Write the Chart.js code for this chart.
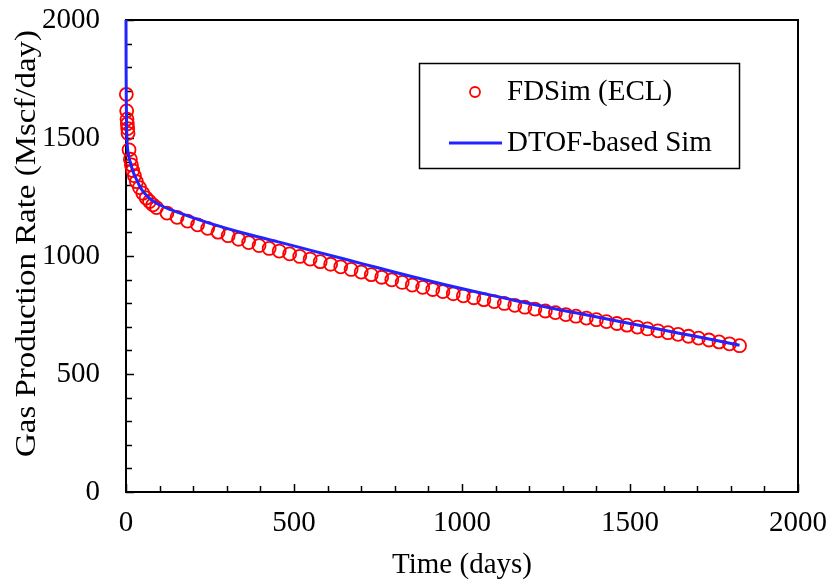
<!DOCTYPE html>
<html>
<head>
<meta charset="utf-8">
<script src="https://cdn.jsdelivr.net/npm/chart.js@4.4.1/dist/chart.umd.min.js"></script>
<style>
  html, body { margin: 0; padding: 0; background: #ffffff; }
  #wrap { width: 834px; height: 584px; }
</style>
</head>
<body>
<div id="wrap"><canvas id="c" width="834" height="584"></canvas></div>
<script>
// ---- data ----
const fdLabel = 'FDSim (ECL)';
const simLabel = 'DTOF-based Sim';

const fdTime = [1,2,3,4,5,6,9,13,16,20,25,31,40,50,60,70,80,91,
  122,152,183,213,243,274,304,335,365,
  396,426,456,487,517,548,578,609,639,670,700,730,
  761,791,822,852,883,913,943,974,1004,1035,1065,1096,
  1126,1157,1187,1217,1248,1278,1309,1339,1370,1400,1430,1461,
  1491,1522,1552,1583,1613,1643,1674,1704,1735,1765,1796,1826];
const fdRate = [1685,1615,1580,1560,1540,1520,1450,1410,1386,1362,1340,1315,1290,1266,1246,1231,1217,1205,
  1182,1164,1148,1132,1117,1101,1086,1071,1057,
  1044,1032,1021,1009,998,987,976,965,954,943,932,921,
  910,899,888,877,867,858,849,840,831,823,815,807,
  799,791,783,775,767,760,752,745,737,730,722,714,
  707,699,691,683,675,668,660,652,644,636,628,620];

const simTime = [0,0.3,1,2,3,5,8,12,17,23,32,45,62,80,101,130,161,190,220,260,300,369,450,550,650,750,850,950,1050,1150,1250,1350,1450,1550,1650,1750,1826];
const simRate = [2000,1800,1640,1540,1490,1450,1425,1400,1375,1350,1322,1285,1255,1233,1216,1198,1182,1167,1152,1134,1117,1090,1061,1024,987,950,913,878,845,814,784,756,728,700,672,644,622];

const xTickValues = [0, 500, 1000, 1500, 2000];
const yTickValues = [0, 500, 1000, 1500, 2000];
const xTitle = 'Time (days)';
const yTitle = 'Gas Production Rate (Mscf/day)';

// ---- styling ----
const FONT = '"Liberation Serif", "Times New Roman", serif';
const RED = '#ff0000';
const BLUE = '#2323ff';

const fdPoints = fdTime.map((t, i) => ({x: t, y: fdRate[i]}));
const simPoints = simTime.map((t, i) => ({x: t, y: simRate[i]}));

const framePlugin = {
  id: 'frameTicks',
  beforeDatasetsDraw(chart) {
    const {ctx, chartArea: a, scales: {x, y}} = chart;
    ctx.save();
    ctx.strokeStyle = '#000';
    ctx.lineWidth = 1.5;
    for (let v = 0; v <= 2000; v += 100) {
      const px = Math.round(x.getPixelForValue(v)) + 0.5;
      const len = (v % 500 === 0) ? 8 : 6;
      ctx.beginPath(); ctx.moveTo(px, a.bottom); ctx.lineTo(px, a.bottom - len); ctx.stroke();
      const py = Math.round(y.getPixelForValue(v)) + 0.5;
      ctx.beginPath(); ctx.moveTo(a.left, py); ctx.lineTo(a.left + len, py); ctx.stroke();
    }
    ctx.lineWidth = 2;
    ctx.strokeRect(a.left, a.top, a.right - a.left, a.bottom - a.top);

    // y axis title (drawn here to match the wide lettering of the reference)
    ctx.save();
    ctx.translate(35, (a.top + a.bottom) / 2 - 12.5);
    ctx.rotate(-Math.PI / 2);
    ctx.scale(1.135, 1);
    ctx.font = '29px ' + FONT;
    ctx.fillStyle = '#000';
    ctx.textAlign = 'center';
    ctx.textBaseline = 'alphabetic';
    ctx.fillText(yTitle, 0, 0);
    ctx.restore();
    ctx.restore();
  },
  afterDraw(chart) {
    const {ctx, chartArea: a} = chart;
    ctx.save();
    const lx = a.left + 293, ly = a.top + 43, lw = 320, lh = 105;
    ctx.fillStyle = '#fff';
    ctx.fillRect(lx, ly, lw, lh);
    ctx.strokeStyle = '#000';
    ctx.lineWidth = 1.5;
    ctx.strokeRect(lx + 0.5, ly + 0.5, lw, lh);
    ctx.font = '29px ' + FONT;
    ctx.fillStyle = '#000';
    ctx.textBaseline = 'middle';
    ctx.textAlign = 'left';
    const ds = chart.data.datasets;
    ctx.strokeStyle = ds[0].borderColor;
    ctx.lineWidth = ds[0].pointBorderWidth;
    ctx.beginPath(); ctx.arc(lx + 56, ly + 29, 5, 0, Math.PI * 2); ctx.stroke();
    ctx.fillText(ds[0].label, lx + 88, ly + 29);
    ctx.strokeStyle = ds[1].borderColor;
    ctx.lineWidth = ds[1].borderWidth;
    ctx.beginPath(); ctx.moveTo(lx + 30, ly + 80); ctx.lineTo(lx + 83, ly + 80); ctx.stroke();
    ctx.fillText(ds[1].label, lx + 88, ly + 80);
    ctx.restore();
  }
};

new Chart(document.getElementById('c'), {
  type: 'scatter',
  data: {
    datasets: [
      {
        label: fdLabel,
        data: fdPoints,
        showLine: false,
        borderColor: RED,
        pointBorderColor: RED,
        pointBackgroundColor: 'rgba(0,0,0,0)',
        pointRadius: 6.5,
        pointBorderWidth: 1.8,
        pointHoverRadius: 6.5,
        clip: false,
        order: 2
      },
      {
        label: simLabel,
        data: simPoints,
        showLine: true,
        borderColor: BLUE,
        borderWidth: 3,
        pointRadius: 0,
        pointHoverRadius: 0,
        cubicInterpolationMode: 'monotone',
        fill: false,
        clip: false,
        order: 1
      }
    ]
  },
  options: {
    responsive: false,
    animation: false,
    events: [],
    layout: { padding: { top: 20, right: 36, left: 0, bottom: 0 } },
    plugins: { legend: { display: false }, tooltip: { enabled: false } },
    scales: {
      x: {
        type: 'linear', min: 0, max: 2000,
        afterFit(s) { s.height = 92; s.paddingLeft = 0; s.paddingRight = 0; },
        afterBuildTicks(s) { s.ticks = xTickValues.map(v => ({value: v})); },
        grid: { display: false, drawTicks: false },
        border: { display: false },
        ticks: { color: '#000', font: { family: FONT, size: 29 }, padding: 14, maxRotation: 0, callback: v => String(v) },
        title: { display: true, text: xTitle, color: '#000', font: { family: FONT, size: 29 }, padding: { top: 0, bottom: 1 } }
      },
      y: {
        type: 'linear', min: 0, max: 2000,
        afterFit(s) { s.width = 126; s.paddingTop = 0; s.paddingBottom = 0; },
        afterBuildTicks(s) { s.ticks = yTickValues.map(v => ({value: v})); },
        grid: { display: false, drawTicks: false },
        border: { display: false },
        ticks: { color: '#000', font: { family: FONT, size: 29 }, padding: 26, callback: v => String(v) },
        title: { display: false, text: yTitle }
      }
    }
  },
  plugins: [framePlugin]
});
</script>
</body>
</html>
